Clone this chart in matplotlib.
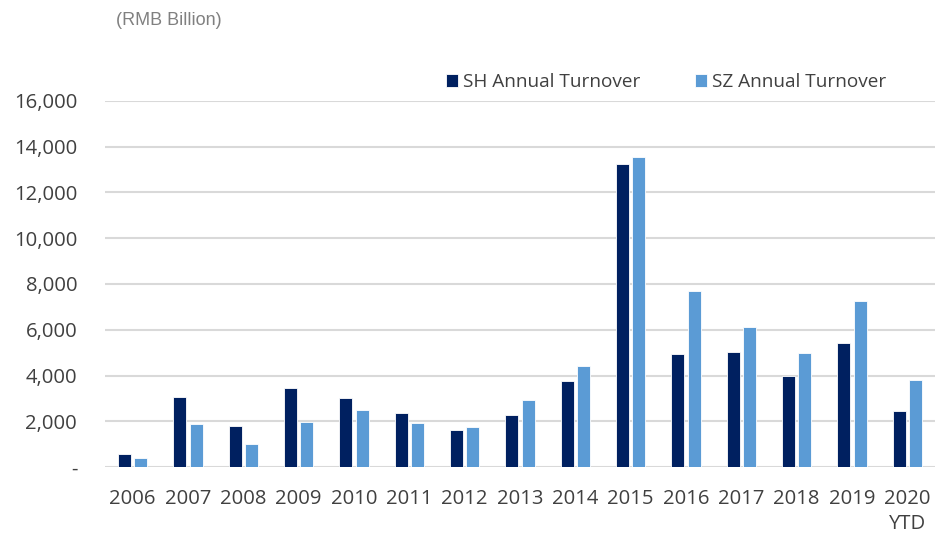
import matplotlib
matplotlib.use('Agg')
import matplotlib.pyplot as plt
import numpy as np
from matplotlib.ticker import FuncFormatter

# data (RMB Billion)
years = ['2006', '2007', '2008', '2009', '2010', '2011', '2012', '2013',
         '2014', '2015', '2016', '2017', '2018', '2019', '2020\nYTD']
sh_turnover = [569, 3051, 1810, 3460, 3036, 2380, 1635, 2280,
               3747, 13246, 4938, 5040, 3994, 5418, 2440]
sz_turnover = [380, 1869, 993, 1985, 2482, 1927, 1770, 2948,
               4415, 13551, 7712, 6115, 4967, 7248, 3820]

plt.rcParams['font.family'] = ['Open Sans', 'DejaVu Sans']

fig = plt.figure(figsize=(9.35, 5.36), dpi=100)
ax = fig.add_axes([0.1123, 0.1287, 0.8877, 0.6829])

x = np.arange(len(years))
w = 0.235
off = 0.145
ax.bar(x - off, sh_turnover, w, color='#002060', edgecolor='white', linewidth=0.6,
       label='SH Annual Turnover', zorder=3)
ax.bar(x + off, sz_turnover, w, color='#5B9BD5', edgecolor='white', linewidth=0.6,
       label='SZ Annual Turnover', zorder=3)

ax.set_xlim(-0.5, len(years) - 0.5)
ax.set_ylim(0, 16000)
ax.set_yticks(np.arange(0, 16001, 2000))
ax.yaxis.set_major_formatter(FuncFormatter(lambda v, p: '-' if v == 0 else f'{int(v):,}'))
ax.set_xticks(x)
ax.set_xticklabels(years, linespacing=1.3)

ax.grid(axis='y', color='#D9D9D9', linewidth=1.5, zorder=0)
ax.set_axisbelow(True)
for s in ['top', 'right', 'left', 'bottom']:
    ax.spines[s].set_visible(False)
ax.tick_params(axis='both', length=0, labelsize=14.6, colors='#404040')
ax.tick_params(axis='y', pad=20)
ax.tick_params(axis='x', pad=16)

leg = fig.legend(loc='center left', bbox_to_anchor=(0.477, 0.847), ncol=2, frameon=False,
                 fontsize=13.7, handlelength=0.65, handleheight=0.65, handletextpad=0.26,
                 columnspacing=2.85, borderpad=0, borderaxespad=0, labelcolor='#404040')

fig.text(0.124, 0.962, '(RMB Billion)', fontsize=13, color='#808080',
         family='Liberation Sans', va='center', ha='left')

fig.savefig('out.png', dpi=100)
